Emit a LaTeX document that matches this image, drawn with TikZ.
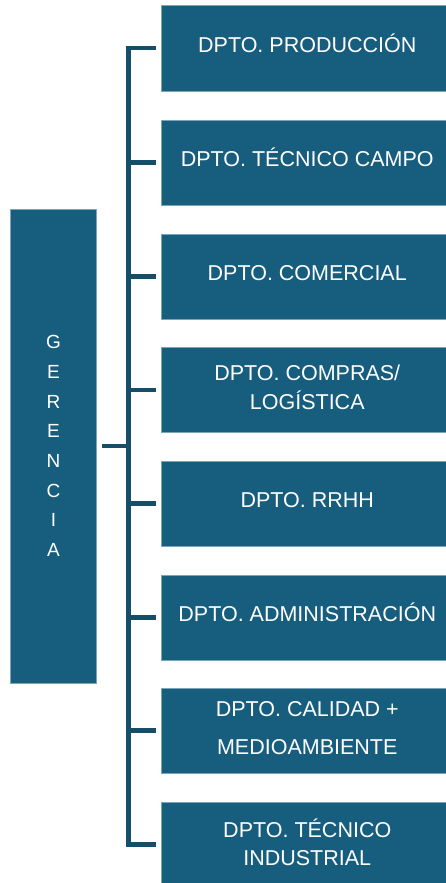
\documentclass[tikz,border=0pt]{standalone}
\usepackage{fontspec}
\setmainfont{Liberation Sans}
\definecolor{deptblue}{RGB}{23,94,126}
\definecolor{deptedge}{RGB}{125,165,185}
\definecolor{busline}{RGB}{22,78,105}
\tikzset{
	dept/.style={fill=deptblue, draw=deptedge, line width=0.5pt, minimum width=291.5pt, minimum height=85.5pt, inner sep=0pt, text=white, font=\fontsize{21.5}{25}\selectfont},
	onerow/.style={text height=8pt, text depth=0pt},
	tworow/.style={align=center, execute at end node={\rule[-5pt]{0pt}{5pt}}},
	gerbox/.style={fill=deptblue, draw=deptedge, line width=0.5pt, minimum width=86pt, minimum height=474.5pt, inner sep=0pt, text=white, align=center, font=\fontsize{19}{29.7}\selectfont},
	bus/.style={draw=busline, line width=4.5pt}
}

\begin{document}
\begin{tikzpicture}[x=1pt,y=-1pt]
		\useasboundingbox (0,0) rectangle (445,883);
		%%%%% START %%%%%
		\node[gerbox] (gerencia) at (53.5,446) {G\\E\\R\\E\\N\\C\\I\\A};
		
		\node[dept,onerow] (produccion) at (307.25,48.25) {DPTO. PRODUCCIÓN};
		\node[dept,onerow] (tecnico) at (307.25,162.5) {DPTO. TÉCNICO CAMPO};
		\node[dept,onerow] (comercial) at (307.25,276.5) {DPTO. COMERCIAL};
		\node[dept,tworow] (compras) at (307.25,389.75) {DPTO. COMPRAS/\\[4.5pt]LOGÍSTICA};
		\node[dept,onerow] (rrhh) at (307.25,503.5) {DPTO. RRHH};
		\node[dept,onerow] (admin) at (307.25,617.5) {DPTO. ADMINISTRACIÓN};
		\node[dept,tworow] (calidad) at (307.25,730.5) {DPTO. CALIDAD +\\[13.5pt]MEDIOAMBIENTE};
		\node[dept,tworow] (industrial) at (307.25,844.5) {DPTO. TÉCNICO\\[2.5pt]INDUSTRIAL};
		
		\coordinate (junc) at (128.5,446);
		\draw[bus, shorten <=5pt] (gerencia.east) -- (junc);
		\draw[bus, line join=miter, shorten <=5.5pt, shorten >=5.5pt] (produccion.west) -- (junc |- produccion.west) -- (junc |- industrial.west) -- (industrial.west);
		\draw[bus, shorten >=5.5pt] (junc |- tecnico.west) -- (tecnico.west);
		\draw[bus, shorten >=5.5pt] (junc |- comercial.west) -- (comercial.west);
		\draw[bus, shorten >=5.5pt] (junc |- compras.west) -- (compras.west);
		\draw[bus, shorten >=5.5pt] (junc |- rrhh.west) -- (rrhh.west);
		\draw[bus, shorten >=5.5pt] (junc |- admin.west) -- (admin.west);
		\draw[bus, shorten >=5.5pt] (junc |- calidad.west) -- (calidad.west);
		%%%%% END %%%%%
\end{tikzpicture}
\end{document}
